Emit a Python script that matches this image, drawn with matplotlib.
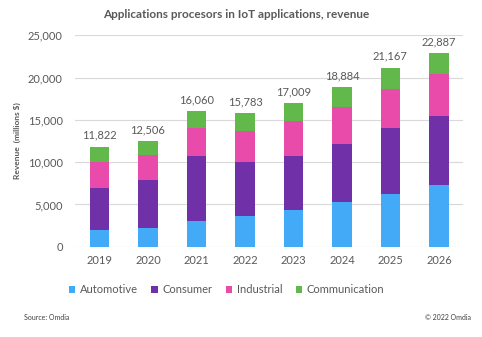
import numpy as np
import matplotlib
matplotlib.use('Agg')
import matplotlib.pyplot as plt

plt.rcParams['font.family'] = ['Lato', 'DejaVu Sans']

# Dados (milhões de $)
years = ['2019', '2020', '2021', '2022', '2023', '2024', '2025', '2026']
automotive = [2000, 2200, 3000, 3670, 4380, 5300, 6280, 7350]
consumer = [5000, 5700, 7780, 6330, 6400, 6870, 7780, 8170]
industrial = [3000, 2930, 3270, 3740, 4080, 4380, 4590, 4860]
communication = [1822, 1676, 2010, 2043, 2149, 2334, 2517, 2507]
totals = [11822, 12506, 16060, 15783, 17009, 18884, 21167, 22887]

series = [('Automotive', automotive, '#42AAF7'),
          ('Consumer', consumer, '#7030A8'),
          ('Industrial', industrial, '#E94BAA'),
          ('Communication', communication, '#62B84A')]

grey = '#595959'

fig = plt.figure(figsize=(4.82, 3.37), dpi=100)
ax = fig.add_axes([0.156, 0.268, 0.805, 0.627])

x = np.arange(len(years))
bottom = np.zeros(len(years))
for name, vals, col in series:
    ax.bar(x, vals, bottom=bottom, width=0.4, color=col, label=name, zorder=3)
    bottom += np.array(vals)

for xi, t in zip(x, totals):
    ax.text(xi, t + 700, f'{t:,}', ha='center', va='bottom', fontsize=8, color=grey)

ax.set_xlim(-0.5, len(years) - 0.5)
ax.set_ylim(0, 25000)
ax.set_yticks(range(0, 25001, 5000))
ax.set_yticklabels([f'{v:,}' for v in range(0, 25001, 5000)])
ax.set_xticks(x)
ax.set_xticklabels(years)
ax.tick_params(axis='both', length=0, labelsize=8, colors=grey)
ax.tick_params(axis='y', pad=9)
ax.tick_params(axis='x', pad=6)
ax.grid(axis='y', color='#D9D9D9', linewidth=0.8, zorder=0)
for s in ax.spines.values():
    s.set_visible(False)

ax.set_ylabel('Revenue  (millions $)', fontsize=6, fontweight='bold', color=grey, labelpad=5)
fig.text(0.49, 0.958, 'Applications procesors in IoT applications, revenue',
         ha='center', va='center', fontsize=8.5, fontweight='bold', color=grey)

ax.legend(loc='upper center', bbox_to_anchor=(0.39, -0.13), ncol=4, frameon=False,
          fontsize=8, handlelength=0.6, handleheight=0.6, handletextpad=0.4,
          columnspacing=1.2, labelcolor=grey)

fig.text(0.05, 0.057, 'Source: Omdia', fontsize=5, color='#404040', va='center')
fig.text(0.977, 0.057, '\u00a9 2022 Omdia', fontsize=5, color='#404040', va='center', ha='right')

fig.savefig('out.png', dpi=100)
